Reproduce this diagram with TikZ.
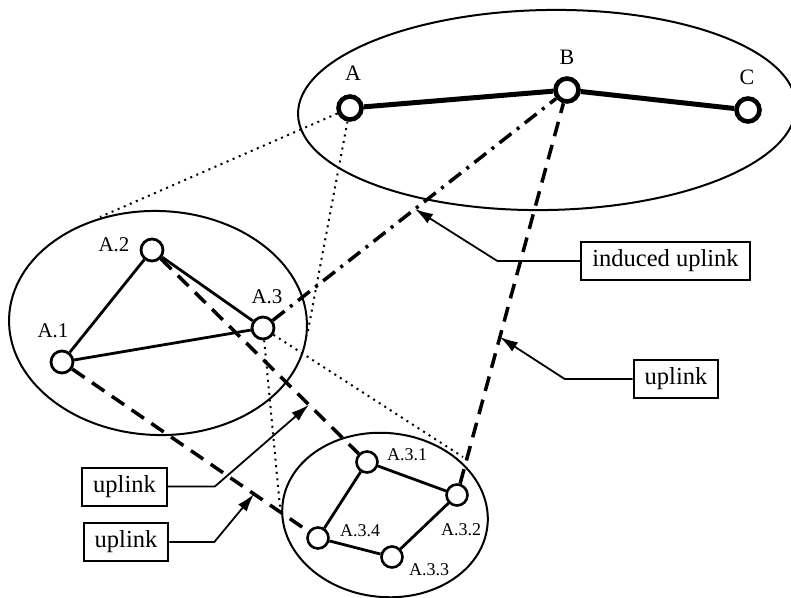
\documentclass[tikz,border=0pt]{standalone}
\usepackage{fontspec}
\setmainfont{Liberation Serif}
\usetikzlibrary{arrows.meta,calc}

\tikzset{
  topnode/.style={circle, draw, fill=white, line width=4.6pt, minimum size=23pt, inner sep=0pt},
  subnode/.style={circle, draw, fill=white, line width=2.8pt, minimum size=22pt, inner sep=0pt},
  leafnode/.style={circle, draw, fill=white, line width=2.6pt, minimum size=21pt, inner sep=0pt},
  cluster/.style={line width=2pt},
  toplink/.style={line width=5pt},
  link/.style={line width=2.8pt},
  uplink/.style={line width=3.5pt, dash pattern=on 15pt off 9pt},
  induced/.style={line width=3.5pt, dash pattern=on 15pt off 7pt on 3pt off 7pt},
  proj/.style={line width=2pt, dash pattern=on 2pt off 4.6pt},
  callout/.style={rectangle, draw, line width=2pt, inner xsep=11pt, inner ysep=0pt, minimum height=38pt, font=\fontsize{24.5}{28}\selectfont},
  pointer/.style={line width=1.8pt, -{Latex[length=18pt,width=11pt]}},
}

\begin{document}
\begin{tikzpicture}[x=1pt, y=-1pt]
    \useasboundingbox (0,0) rectangle (791,597);

    % clusters
    \draw[cluster, rotate around={1:(547,110)}] (547,110) ellipse [x radius=249, y radius=100];
    \draw[cluster, rotate around={-2:(158,323)}] (158,323) ellipse [x radius=149, y radius=112];
    \draw[cluster, rotate around={-6:(385,515)}] (385,515) ellipse [x radius=103, y radius=82];

    % nodes
    \node[topnode] (A) at (350,108) {};
    \node[topnode] (B) at (567,90) {};
    \node[topnode] (C) at (748,110) {};
    \node[subnode] (A1) at (62,362) {};
    \node[subnode] (A2) at (152,250) {};
    \node[subnode] (A3) at (263,328) {};
    \node[leafnode] (A31) at (367,462) {};
    \node[leafnode] (A32) at (457,495) {};
    \node[leafnode] (A33) at (392,557) {};
    \node[leafnode] (A34) at (318,538) {};

    \node[font=\fontsize{22}{24}\selectfont] (labA) at (353,73) {A};
    \node[font=\fontsize{22}{24}\selectfont] (labB) at (567,57) {B};
    \node[font=\fontsize{22}{24}\selectfont] (labC) at (747,77) {C};
    \node[font=\fontsize{21}{24}\selectfont] (labA1) at (53,331) {A.1};
    \node[font=\fontsize{21}{24}\selectfont] (labA2) at (114,245) {A.2};
    \node[font=\fontsize{21}{24}\selectfont] (labA3) at (267,297) {A.3};
    \node[font=\fontsize{18}{20}\selectfont] (labA31) at (407,455) {A.3.1};
    \node[font=\fontsize{18}{20}\selectfont] (labA32) at (461,530) {A.3.2};
    \node[font=\fontsize{18}{20}\selectfont] (labA33) at (429,570) {A.3.3};
    \node[font=\fontsize{18}{20}\selectfont] (labA34) at (360,531) {A.3.4};

    % links
    \draw[toplink] (A) -- (B);
    \draw[toplink] (B) -- (C);
    \draw[link] (A1) -- (A2);
    \draw[link] (A2) -- (A3);
    \draw[link] (A1) -- (A3);
    \draw[link] (A31) -- (A32);
    \draw[link] (A32) -- (A33);
    \draw[link] (A33) -- (A34);
    \draw[link] (A34) -- (A31);

    % projections
    \coordinate (leftTop) at (100,217);
    \coordinate (leftRight) at (307,336);
    \coordinate (botLeft) at (280,507);
    \coordinate (botRight) at (463,457);
    \draw[proj] (A) -- (leftTop);
    \draw[proj] (A) -- (leftRight);
    \draw[proj] (A3) -- (botLeft);
    \draw[proj] (A3) -- (botRight);

    % uplinks
    \draw[uplink] (A1) -- (A34);
    \draw[uplink] (A2) -- (A31);
    \draw[uplink] (A32) -- (B);
    \draw[induced] (A3) -- (B);

    % callouts
    \node[callout] (induced) at (665.5,261) {induced uplink};
    \node[callout] (uplinkB) at (676,379) {uplink};
    \node[callout] (uplinkA2) at (124.5,486.5) {uplink};
    \node[callout] (uplinkA1) at (126,542) {uplink};

    \coordinate (tipInduced) at ($(A3)!0.5!(B)$);
    \coordinate (tipB) at ($(A32)!0.39!(B)$);
    \coordinate (tipA2) at ($(A2)!0.73!(A31)$);
    \coordinate (tipA1) at ($(A1)!0.75!(A34)$);

    \draw[pointer] (induced.west) -- ++(-83,0) -- (tipInduced);
    \draw[pointer] (uplinkB.west) -- ++(-68,0) -- (tipB);
    \draw[pointer] (uplinkA2.east) -- ++(47,0) -- (tipA2);
    \draw[pointer] (uplinkA1.east) -- ++(45,0) -- (tipA1);
\end{tikzpicture}
\end{document}
